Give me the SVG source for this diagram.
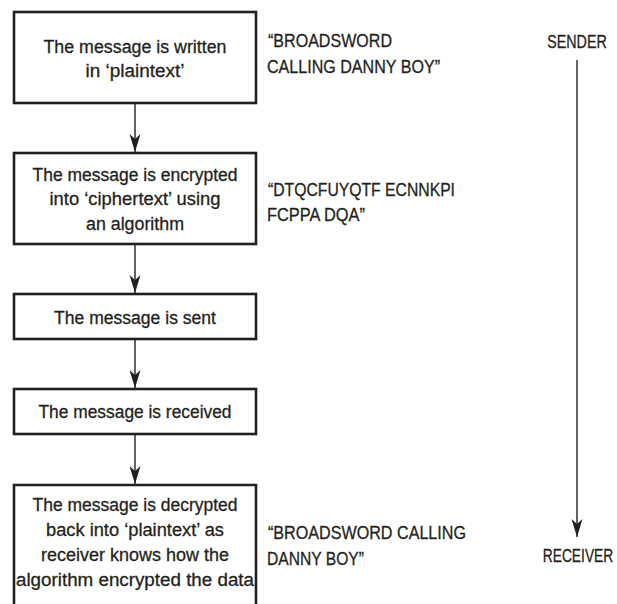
<svg xmlns="http://www.w3.org/2000/svg" width="617" height="604" viewBox="0 0 617 604">
<style>
text{font-family:"Liberation Sans",Arial,sans-serif;font-size:18.8px;fill:#231f20;stroke:#231f20;stroke-width:0.3}
.c{text-anchor:middle}
.box{fill:#fff;stroke:#231f20;stroke-width:2.6}
.con{stroke:#231f20;stroke-width:1.4;fill:none}
</style>
<defs>
<marker id="ah" markerUnits="userSpaceOnUse" markerWidth="20" markerHeight="14" viewBox="-19 -7 20 14" refX="0" refY="0" orient="auto">
<path d="M0,0 L-18,-5.5 L-13,0 L-18,5.5 Z" fill="#231f20"/>
</marker>
</defs>
<rect width="617" height="604" fill="#fff"/>
<g id="connectors">
<line class="con" x1="135" y1="103" x2="135" y2="152" marker-end="url(#ah)"/>
<line class="con" x1="135" y1="244" x2="135" y2="293" marker-end="url(#ah)"/>
<line class="con" x1="135" y1="339" x2="135" y2="388" marker-end="url(#ah)"/>
<line class="con" x1="135" y1="434" x2="135" y2="484" marker-end="url(#ah)"/>
<line class="con" x1="577" y1="60" x2="577" y2="537" marker-end="url(#ah)"/>
</g>
<g id="n1">
<rect class="box" x="14" y="12" width="242" height="91"/>
<text class="c" x="135" y="53" textLength="183" lengthAdjust="spacingAndGlyphs">The message is written</text>
<text class="c" x="135" y="77" textLength="99" lengthAdjust="spacingAndGlyphs">in ‘plaintext’</text>
</g>
<g id="n2">
<rect class="box" x="14" y="153" width="242" height="91"/>
<text class="c" x="135" y="181" textLength="205" lengthAdjust="spacingAndGlyphs">The message is encrypted</text>
<text class="c" x="135" y="205" textLength="171" lengthAdjust="spacingAndGlyphs">into ‘ciphertext’ using</text>
<text class="c" x="135" y="230" textLength="98" lengthAdjust="spacingAndGlyphs">an algorithm</text>
</g>
<g id="n3">
<rect class="box" x="14" y="294" width="242" height="45"/>
<text class="c" x="135" y="324" textLength="162" lengthAdjust="spacingAndGlyphs">The message is sent</text>
</g>
<g id="n4">
<rect class="box" x="14" y="389" width="242" height="45"/>
<text class="c" x="135" y="418" textLength="193" lengthAdjust="spacingAndGlyphs">The message is received</text>
</g>
<g id="n5">
<path class="box" d="M14,606 L14,485 L256,485 L256,606"/>
<text class="c" x="135" y="511" textLength="205" lengthAdjust="spacingAndGlyphs">The message is decrypted</text>
<text class="c" x="135" y="536" textLength="178" lengthAdjust="spacingAndGlyphs">back into ‘plaintext’ as</text>
<text class="c" x="135" y="561" textLength="188" lengthAdjust="spacingAndGlyphs">receiver knows how the</text>
<text class="c" x="135" y="586" textLength="238" lengthAdjust="spacingAndGlyphs">algorithm encrypted the data</text>
</g>
<g id="t1">
<text x="268" y="47" textLength="124" lengthAdjust="spacingAndGlyphs">“BROADSWORD</text>
<text x="267" y="73" textLength="173" lengthAdjust="spacingAndGlyphs">CALLING DANNY BOY”</text>
</g>
<g id="t2">
<text x="268" y="196" textLength="187" lengthAdjust="spacingAndGlyphs">“DTQCFUYQTF ECNNKPI</text>
<text x="267" y="221" textLength="98" lengthAdjust="spacingAndGlyphs">FCPPA DQA”</text>
</g>
<g id="t3">
<text x="268" y="539" textLength="198" lengthAdjust="spacingAndGlyphs">“BROADSWORD CALLING</text>
<text x="267" y="565" textLength="97" lengthAdjust="spacingAndGlyphs">DANNY BOY”</text>
</g>
<g id="sender"><text class="c" transform="translate(577,48) scale(0.76,1)">SENDER</text></g>
<g id="receiver"><text class="c" transform="translate(578,562) scale(0.735,1)">RECEIVER</text></g>
</svg>
